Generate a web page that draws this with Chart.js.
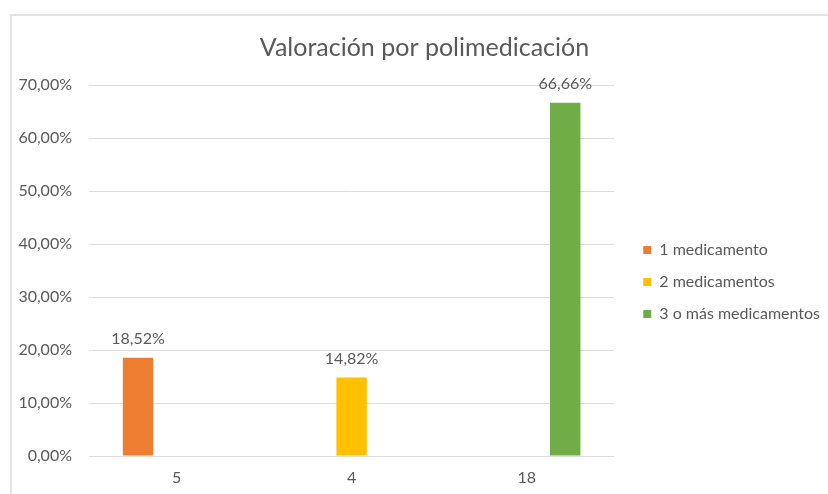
<!DOCTYPE html>
<html>
<head>
<meta charset="utf-8">
<script src="https://cdn.jsdelivr.net/npm/chart.js@4/dist/chart.umd.min.js"></script>
<style>
    html, body { margin: 0; padding: 0; background: #fff; }
    #wrap { position: relative; width: 828px; height: 494px; }
    #frame { position: absolute; left: 10px; top: 14px; right: -4px; bottom: -4px;
             border-left: 2px solid #e3e3e3; border-top: 2px solid #e3e3e3; }
    canvas { position: absolute; left: 0; top: 0; }
</style>
</head>
<body>
<div id="wrap">
    <div id="frame"></div>
    <canvas id="chart" width="828" height="494"></canvas>
</div>
<script>
const categories = ['5', '4', '18'];
const seriesNames = ['1 medicamento', '2 medicamentos', '3 o más medicamentos'];
const unMedicamento = [18.52, null, null];
const dosMedicamentos = [null, 14.82, null];
const tresOMas = [null, null, 66.66];
const yMax = 70;
const yStep = 10;
const colors = ['#ED7D31', '#FFC000', '#70AD47'];

const FONT = 'Lato, "Liberation Sans", sans-serif';
const TEXT = '#595959';

const pct = v => Number(v).toFixed(2).replace('.', ',') + '%';

// etiquetas de datos encima de cada barra
const barLabels = {
    id: 'barLabels',
    afterDatasetsDraw(chart) {
        const ctx = chart.ctx;
        ctx.save();
        ctx.font = '16px ' + FONT;
        ctx.fillStyle = TEXT;
        ctx.textAlign = 'center';
        ctx.textBaseline = 'bottom';
        chart.data.datasets.forEach((ds, i) => {
            chart.getDatasetMeta(i).data.forEach((bar, j) => {
                if (ds.data[j] == null) return;
                ctx.fillText(pct(ds.data[j]), bar.x, bar.y - 11);
            });
        });
        ctx.restore();
    }
};

// leyenda más separada y algo más abajo; título algo a la derecha, como en Excel
const layoutShift = {
    id: 'layoutShift',
    afterLayout(chart) {
        const lg = chart.legend;
        lg.left += 13;
        lg.right += 13;
        lg.top += 39;
        lg.bottom += 39;
        const tb = chart.titleBlock;
        tb.left += 9;
        tb.right += 9;
    }
};

new Chart(document.getElementById('chart'), {
    type: 'bar',
    data: {
        labels: categories,
        datasets: [unMedicamento, dosMedicamentos, tresOMas].map((d, i) => ({
            label: seriesNames[i],
            data: d,
            backgroundColor: colors[i],
            categoryPercentage: 0.66,
            barPercentage: 0.79
        }))
    },
    options: {
        responsive: false,
        animation: false,
        layout: { padding: { left: 18, right: 15, top: 0, bottom: 8 } },
        plugins: {
            title: {
                display: true,
                text: 'Valoración por polimedicación',
                color: TEXT,
                font: { family: FONT, size: 25, weight: 'normal' },
                padding: { top: 33, bottom: 22 }
            },
            legend: {
                position: 'right',
                labels: {
                    color: TEXT,
                    font: { family: FONT, size: 16 },
                    boxWidth: 8,
                    boxHeight: 8,
                    padding: 16
                }
            },
            tooltip: { enabled: false }
        },
        scales: {
            x: {
                grid: { display: false },
                border: { display: false },
                ticks: { color: TEXT, font: { family: FONT, size: 16 }, padding: 4 },
                afterFit: s => { s.height = 30; }
            },
            y: {
                min: 0,
                max: yMax,
                afterFit: s => { s.width = 71; },
                grid: { color: '#dcdcdc', lineWidth: 1, drawTicks: false },
                border: { display: false },
                ticks: {
                    stepSize: yStep,
                    color: TEXT,
                    font: { family: FONT, size: 16 },
                    padding: 17,
                    callback: v => pct(v)
                }
            }
        }
    },
    plugins: [barLabels, layoutShift]
});
</script>
</body>
</html>
